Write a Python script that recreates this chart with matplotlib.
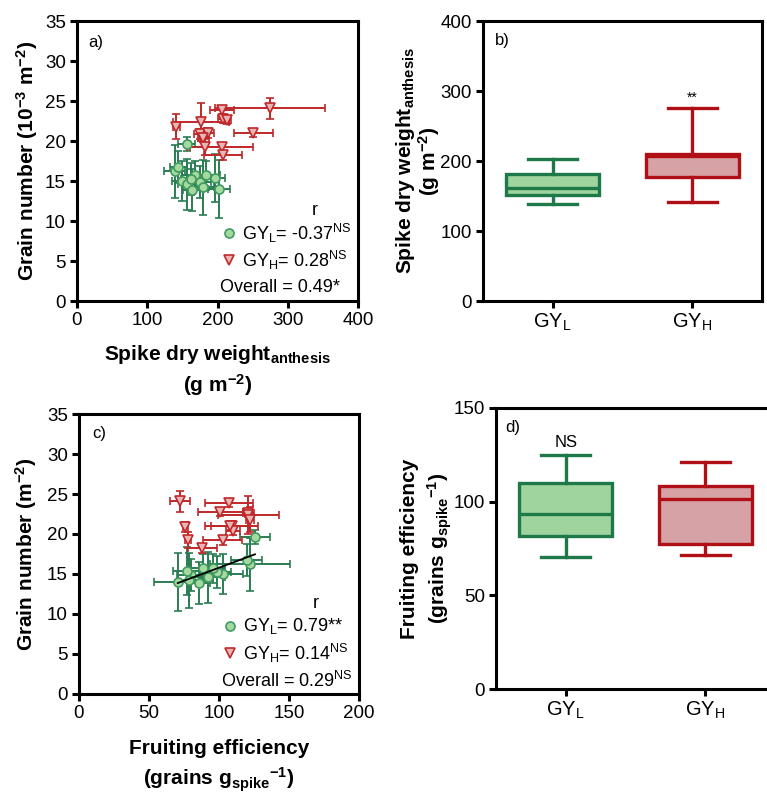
import numpy as np
import matplotlib
matplotlib.use('Agg')
import matplotlib.pyplot as plt

plt.rcParams['font.family'] = ['Liberation Sans', 'DejaVu Sans']
plt.rcParams['mathtext.fontset'] = 'custom'
plt.rcParams['mathtext.rm'] = 'Liberation Sans'
plt.rcParams['mathtext.it'] = 'Liberation Sans:italic'
plt.rcParams['mathtext.bf'] = 'Liberation Sans:bold'

# ---- data ----
# GY_L genotypes
gn_L = [19.6, 16.2, 16.7, 15.0, 14.6, 13.9, 15.8, 15.2, 14.9, 14.2, 15.7, 15.4, 14.0]
gn_L_err = [0.9, 3.3, 2.0, 2.5, 3.2, 2.6, 1.7, 2.0, 2.0, 3.4, 1.8, 3.0, 3.6]
sdw_L = [156, 139, 144, 149, 157, 163, 168, 162, 175, 179, 183, 196, 202]
sdw_L_err = [12, 15, 12, 14, 13, 12, 18, 14, 16, 16, 20, 15, 16]
fe_L = [125.7, 122.0, 119.8, 103.0, 92.0, 85.7, 88.8, 98.8, 80.0, 78.8, 96.0, 77.4, 70.5]
fe_L_err = [11, 28.5, 11, 14, 12, 8, 10, 10, 10, 8, 8, 10, 17]

# GY_H genotypes
gn_H = [24.1, 23.9, 22.8, 22.6, 22.4, 21.8, 20.9, 21.0, 20.4, 21.0, 19.3, 19.2, 18.2]
gn_H_err = [1.3, 0.5, 0.5, 0.5, 2.4, 1.6, 0.6, 0.6, 0.5, 0.5, 1.0, 0.6, 0.6]
sdw_H = [275, 206, 208, 213, 176, 141, 175, 187, 180, 251, 182, 206, 208]
sdw_H_err = [78, 17, 8, 6, 40, 5, 8, 8, 8, 28, 25, 45, 27]
fe_H = [72, 107, 101, 121, 121, 122, 76, 109, 110, 108, 78, 102.6, 88]
fe_H_err = [7, 17, 16, 4, 22, 3, 2, 19, 5, 14, 2, 14, 10.5]

groups = ['GY$_\\mathregular{L}$', 'GY$_\\mathregular{H}$']
# box summaries: whislo, q1, med, q3, whishi
sdw_box = [[138, 152, 162, 181.5, 203], [141, 176.5, 207, 209.5, 276]]
fe_box = [[70.3, 81.7, 93.3, 109.9, 125], [71.5, 77.4, 101.3, 108.1, 121.1]]

r_a = ['-0.37$^\\mathregular{NS}$', '0.28$^\\mathregular{NS}$', '0.49*']
r_c = ['0.79**', '0.14$^\\mathregular{NS}$', '0.29$^\\mathregular{NS}$']

G_BAR = '#2a7d52'
G_FACE = '#a6d9a0'
G_EDGE = '#3f9a60'
R_BAR = '#c0282a'
R_FACE = '#e9b6b6'
BOX_G_EDGE = '#1d7a48'
BOX_G_FILL = '#9fd49f'
BOX_R_EDGE = '#b00f16'
BOX_R_FILL = '#d6a2a6'

W, H = 767, 794
fig = plt.figure(figsize=(W / 100, H / 100), dpi=100)


def px_axes(x0, y0, x1, y1):
    return fig.add_axes([x0 / W, 1 - y1 / H, (x1 - x0) / W, (y1 - y0) / H])


def style(ax):
    for s in ax.spines.values():
        s.set_linewidth(2.2)
    ax.tick_params(direction='out', length=5, width=2.2, labelsize=13.5, pad=3)


def scatter_panel(ax, xL, xLe, xH, xHe, yL, yLe, yH, yHe):
    ax.errorbar(xL, yL, xerr=xLe, yerr=yLe, fmt='o', ms=6.5, mfc=G_FACE, mec=G_EDGE,
                mew=1.2, ecolor=G_BAR, elinewidth=1.4, capsize=3.2, capthick=1.4, zorder=3)
    ax.errorbar(xH, yH, xerr=xHe, yerr=yHe, fmt='v', ms=6.5, mfc=R_FACE, mec=R_BAR,
                mew=1.2, ecolor=R_BAR, elinewidth=1.4, capsize=3.2, capthick=1.4, zorder=3)


def r_legend(ax, vals):
    kw = dict(transform=ax.transAxes, fontsize=13, va='center')
    ax.text(0.847, 0.322, 'r', ha='center', **kw)
    ax.plot([0.541], [0.242], 'o', ms=6.5, mfc=G_FACE, mec=G_EDGE, mew=1.2, transform=ax.transAxes)
    ax.plot([0.541], [0.146], 'v', ms=6.5, mfc=R_FACE, mec=R_BAR, mew=1.2, transform=ax.transAxes)
    ax.text(0.587, 0.242, groups[0] + '= ' + vals[0], ha='left', **kw)
    ax.text(0.587, 0.146, groups[1] + '= ' + vals[1], ha='left', **kw)
    ax.text(0.508, 0.048, 'Overall = ' + vals[2], ha='left', **kw)


def box_panel(ax, stats):
    bx = []
    for s in stats:
        bx.append(dict(whislo=s[0], q1=s[1], med=s[2], q3=s[3], whishi=s[4], fliers=[]))
    for i, (edge, fill) in enumerate([(BOX_G_EDGE, BOX_G_FILL), (BOX_R_EDGE, BOX_R_FILL)]):
        ax.bxp([bx[i]], positions=[i], widths=0.67, capwidths=0.35, patch_artist=True,
               showfliers=False,
               boxprops=dict(facecolor=fill, edgecolor=edge, linewidth=2.4),
               whiskerprops=dict(color=edge, linewidth=2.4),
               capprops=dict(color=edge, linewidth=2.4),
               medianprops=dict(color=edge, linewidth=2.4))
    ax.set_xlim(-0.5, 1.5)
    ax.set_xticks([0, 1])
    ax.set_xticklabels(groups, fontsize=14.5)


bold = dict(fontsize=15, fontweight='bold', ha='center', va='center')

# a) grain number vs spike dry weight
ax = px_axes(77, 21, 358, 301)
style(ax)
scatter_panel(ax, sdw_L, sdw_L_err, sdw_H, sdw_H_err, gn_L, gn_L_err, gn_H, gn_H_err)
ax.set_xlim(0, 400)
ax.set_ylim(0, 35)
ax.set_xticks([0, 100, 200, 300, 400])
ax.set_yticks(np.arange(0, 36, 5))
ax.text(0.04, 0.925, 'a)', transform=ax.transAxes, fontsize=12, va='center')
r_legend(ax, r_a)
ax.text(-0.178, 0.5, 'Grain number (10$^{\\mathbf{-3}}$ m$^{\\mathbf{-2}}$)', rotation=90,
        transform=ax.transAxes, **bold)
ax.text(0.5, -0.19, 'Spike dry weight$_{\\mathbf{anthesis}}$', transform=ax.transAxes, **bold)
ax.text(0.5, -0.30, '(g m$^{\\mathbf{-2}}$)', transform=ax.transAxes, **bold)

# b) spike dry weight boxes
ax = px_axes(483, 21, 762, 301)
style(ax)
box_panel(ax, sdw_box)
ax.set_ylim(0, 400)
ax.set_yticks([0, 100, 200, 300, 400])
ax.text(0.043, 0.93, 'b)', transform=ax.transAxes, fontsize=12, va='center')
ax.text(1, sdw_box[1][4] + 14, '**', ha='center', va='center', fontsize=10)
ax.text(-0.278, 0.5, 'Spike dry weight$_{\\mathbf{anthesis}}$', rotation=90,
        transform=ax.transAxes, **bold)
ax.text(-0.192, 0.5, '(g m$^{\\mathbf{-2}}$)', rotation=90, transform=ax.transAxes, **bold)

# c) grain number vs fruiting efficiency
ax = px_axes(79, 414, 359, 694)
style(ax)
scatter_panel(ax, fe_L, fe_L_err, fe_H, fe_H_err, gn_L, gn_L_err, gn_H, gn_H_err)
slope, icpt = np.polyfit(fe_L, gn_L, 1)
xx = np.array([min(fe_L), max(fe_L)])
ax.plot(xx, slope * xx + icpt, color='black', lw=1.3, zorder=4)
ax.set_xlim(0, 200)
ax.set_ylim(0, 35)
ax.set_xticks([0, 50, 100, 150, 200])
ax.set_yticks(np.arange(0, 36, 5))
ax.text(0.046, 0.93, 'c)', transform=ax.transAxes, fontsize=12, va='center')
r_legend(ax, r_c)
ax.text(-0.188, 0.5, 'Grain number (m$^{\\mathbf{-2}}$)', rotation=90,
        transform=ax.transAxes, **bold)
ax.text(0.5, -0.195, 'Fruiting efficiency', transform=ax.transAxes, **bold)
ax.text(0.5, -0.305, '(grains g$_{\\mathbf{spike}}$$^{\\mathbf{-1}}$)', transform=ax.transAxes, **bold)

# d) fruiting efficiency boxes
ax = px_axes(496, 408, 775, 689)
style(ax)
box_panel(ax, fe_box)
ax.set_ylim(0, 150)
ax.set_yticks([0, 50, 100, 150])
ax.text(0.032, 0.93, 'd)', transform=ax.transAxes, fontsize=12, va='center')
ax.text(0, fe_box[0][4] + 6.5, 'NS', ha='center', va='center', fontsize=12)
ax.text(-0.31, 0.5, 'Fruiting efficiency', rotation=90, transform=ax.transAxes, **bold)
ax.text(-0.2, 0.5, '(grains g$_{\\mathbf{spike}}$$^{\\mathbf{-1}}$)', rotation=90,
        transform=ax.transAxes, **bold)

fig.savefig('out.png', dpi=100)
